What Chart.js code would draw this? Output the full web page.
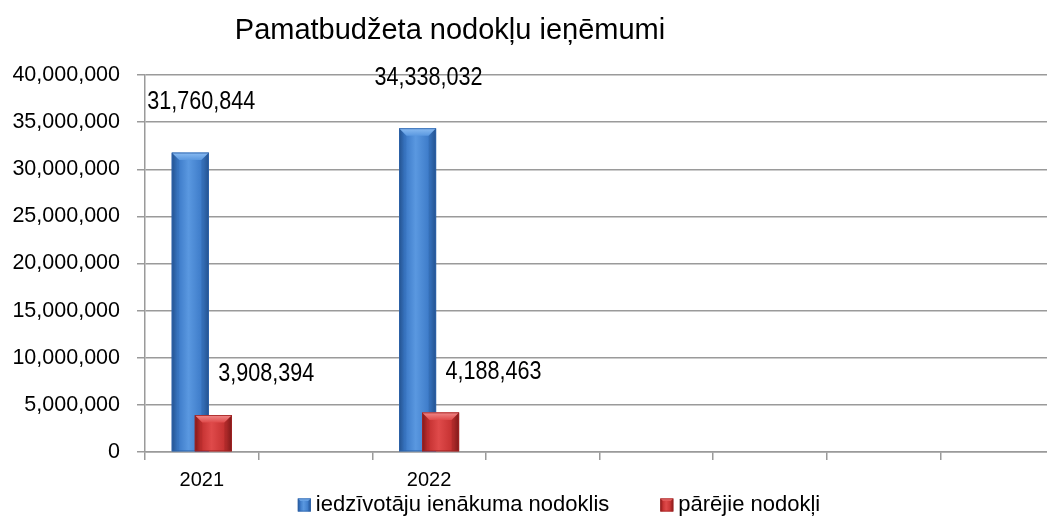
<!DOCTYPE html>
<html>
<head>
<meta charset="utf-8">
<script src="https://cdn.jsdelivr.net/npm/chart.js@4/dist/chart.umd.min.js"></script>
<style>
  html, body { margin: 0; padding: 0; background: #fff; overflow: hidden; }
  #wrap { width: 1047px; height: 518px; overflow: hidden; position: relative; }
  canvas { display: block; }
</style>
</head>
<body>
<div id="wrap"><canvas id="c" width="1054" height="518"></canvas></div>
<script>
const chartTitle = 'Pamatbudžeta nodokļu ieņēmumi';
const categories = ['2021', '', '2022', '', '', '', '', ''];
const seriesNames = ['iedzīvotāju ienākuma nodoklis', 'pārējie nodokļi'];
const incomeTax = [31760844, null, 34338032, null, null, null, null, null];
const otherTaxes = [3908394, null, 4188463, null, null, null, null, null];
const yTicks = [0, 5000000, 10000000, 15000000, 20000000, 25000000, 30000000, 35000000, 40000000];

const SANS = "'Liberation Sans', Arial, sans-serif";
const fmt = v => Number(v).toLocaleString('en-US');

const palettes = [
  { edge: '#24528f', mid: '#3a78c6', light: '#5a98e0', top: '#8bbcf2', topEdge: '#2f64ab' },
  { edge: '#7e1a1a', mid: '#c22f2f', light: '#df4a4a', top: '#f08a8a', topEdge: '#a32424' }
];
const labelOffsets = [ { dx: 11, dy: -51 }, { dx: 53, dy: -41 } ];

function bevelRect(ctx, x0, y0, w, h, p) {
  const g = ctx.createLinearGradient(x0, 0, x0 + w, 0);
  g.addColorStop(0, p.edge);
  g.addColorStop(0.15, p.mid);
  g.addColorStop(0.45, p.light);
  g.addColorStop(0.85, p.mid);
  g.addColorStop(1, p.edge);
  ctx.fillStyle = g;
  ctx.fillRect(x0, y0, w, h);
  const b = Math.min(w * 0.2, h / 2);
  ctx.beginPath();
  ctx.moveTo(x0, y0); ctx.lineTo(x0 + w, y0); ctx.lineTo(x0 + w - b, y0 + b); ctx.lineTo(x0 + b, y0 + b); ctx.closePath();
  const gt = ctx.createLinearGradient(0, y0, 0, y0 + b);
  gt.addColorStop(0, p.top); gt.addColorStop(1, p.light);
  ctx.fillStyle = gt; ctx.fill();
  ctx.globalAlpha = 0.3;
  ctx.fillStyle = p.edge;
  ctx.beginPath();
  ctx.moveTo(x0 + w, y0); ctx.lineTo(x0 + w, y0 + h); ctx.lineTo(x0 + w - b, y0 + h); ctx.lineTo(x0 + w - b, y0 + b); ctx.closePath(); ctx.fill();
  ctx.globalAlpha = 0.15;
  ctx.beginPath();
  ctx.moveTo(x0, y0); ctx.lineTo(x0 + b, y0 + b); ctx.lineTo(x0 + b, y0 + h); ctx.lineTo(x0, y0 + h); ctx.closePath(); ctx.fill();
  ctx.globalAlpha = 1;
  ctx.strokeStyle = p.topEdge; ctx.lineWidth = 0.8;
  ctx.strokeRect(x0 + 0.4, y0 + 0.4, w - 0.8, h - 0.8);
}

function condensedText(ctx, text, x, y, sx) {
  ctx.save();
  ctx.translate(x, y);
  ctx.scale(sx, 1);
  ctx.fillText(text, 0, 0);
  ctx.restore();
}

const decor = {
  id: 'decor',
  afterDatasetsDraw(chart) {
    const ctx = chart.ctx;
    ctx.save();
    chart.data.datasets.forEach((ds, di) => {
      const meta = chart.getDatasetMeta(di);
      meta.data.forEach((el, i) => {
        if (ds.data[i] == null) return;
        const { x, y, base, width } = el.getProps(['x', 'y', 'base', 'width'], true);
        bevelRect(ctx, x - width / 2, y, width, base - y, palettes[di]);
      });
    });
    ctx.fillStyle = '#000';
    ctx.font = '26px ' + SANS;
    ctx.textAlign = 'center';
    ctx.textBaseline = 'middle';
    chart.data.datasets.forEach((ds, di) => {
      const meta = chart.getDatasetMeta(di);
      meta.data.forEach((el, i) => {
        if (ds.data[i] == null) return;
        const { x, y } = el.getProps(['x', 'y'], true);
        condensedText(ctx, fmt(ds.data[i]), x + labelOffsets[di].dx, y + labelOffsets[di].dy, 0.83);
      });
    });
    ctx.restore();
  },
  afterDraw(chart) {
    const ctx = chart.ctx;
    ctx.save();
    ctx.fillStyle = '#000';
    ctx.font = '29px ' + SANS;
    ctx.textAlign = 'center';
    ctx.textBaseline = 'middle';
    ctx.fillText(chartTitle, 450, 31);
    ctx.font = '22px ' + SANS;
    const box = 13, gapText = 5, gapItems = 51;
    const widths = chart.data.datasets.map(d => ctx.measureText(d.label).width);
    let total = 0;
    widths.forEach((w, i) => { total += box + gapText + w + (i < widths.length - 1 ? gapItems : 0); });
    let x = 559 - total / 2;
    const yc = 505;
    ctx.textAlign = 'left';
    chart.data.datasets.forEach((d, i) => {
      bevelRect(ctx, x, yc - box / 2, box, box, palettes[i]);
      ctx.fillStyle = '#000';
      ctx.fillText(d.label, x + box + gapText, yc);
      x += box + gapText + widths[i] + gapItems;
    });
    ctx.restore();
  }
};

new Chart(document.getElementById('c'), {
  type: 'bar',
  data: {
    labels: categories,
    datasets: [
      { label: seriesNames[0], data: incomeTax, backgroundColor: '#3a78c6', categoryPercentage: 0.405, barPercentage: 1.61 },
      { label: seriesNames[1], data: otherTaxes, backgroundColor: '#c22f2f', categoryPercentage: 0.405, barPercentage: 1.61 }
    ]
  },
  options: {
    responsive: false,
    animation: false,
    layout: { padding: { top: 75, right: 0, left: 0, bottom: 0 } },
    plugins: { legend: { display: false }, title: { display: false }, tooltip: { enabled: false } },
    scales: {
      x: {
        offset: true,
        grid: { display: true, drawOnChartArea: false, drawTicks: true, tickLength: 8, color: '#9a9a9a', lineWidth: 1.5, offset: true },
        border: { display: true, color: '#9a9a9a', width: 1.5 },
        ticks: { color: '#000', font: { family: SANS, size: 20 }, padding: 8, maxRotation: 0, autoSkip: false },
        afterFit(s) { s.height = 66; }
      },
      y: {
        min: 0, max: 40000000,
        afterBuildTicks(s) { s.ticks = yTicks.map(v => ({ value: v })); },
        grid: { color: '#9a9a9a', lineWidth: 1.5, tickLength: 8, drawTicks: true },
        border: { display: true, color: '#9a9a9a', width: 1.5 },
        ticks: { color: '#000', font: { family: SANS, size: 21.5 }, padding: 17, callback: v => fmt(v) },
        afterFit(s) { s.width = 145; }
      }
    }
  },
  plugins: [decor]
});
</script>
</body>
</html>
